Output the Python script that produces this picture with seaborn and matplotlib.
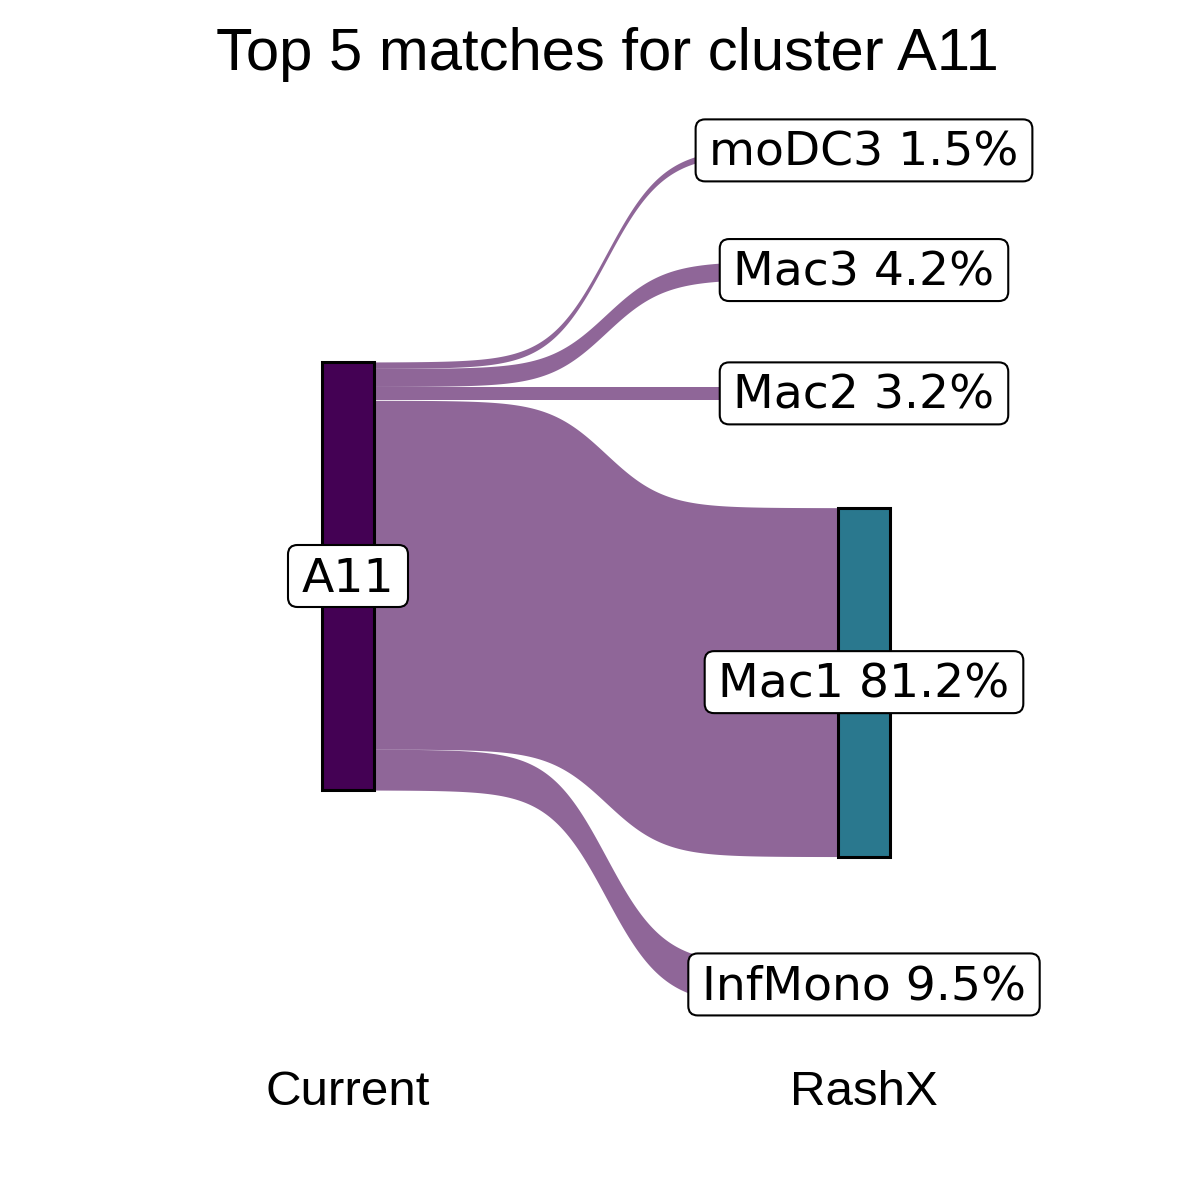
import matplotlib
matplotlib.use("Agg")
import matplotlib.pyplot as plt
import matplotlib.transforms as mtransforms
from matplotlib.patches import BoxStyle
import numpy as np
import seaborn as sns

# data
source = "A11"
targets = ["moDC3", "Mac3", "Mac2", "Mac1", "InfMono"]
pcts = [1.5, 4.2, 3.2, 81.2, 9.5]
columns = ["Current", "RashX"]
node_colors = {"A11": "#440154", "InfMono": "#414487", "Mac1": "#2A788E",
               "Mac2": "#22A884", "Mac3": "#7AD151", "moDC3": "#FDE725"}

sns.set_theme(style="white")
plt.rcParams['font.family'] = ['Liberation Sans', 'DejaVu Sans']
plt.rcParams['text.color'] = 'black'
plt.rcParams['xtick.color'] = 'black'
plt.rcParams['axes.titlecolor'] = 'black'

space = 25      # gap between nodes on the right (same units as pct)
node_w = 0.1
smooth = 8
shift = 3       # px, text sits a bit low in the label box


def sigmoid(x0, x1, y0, y1, n=300):
    s = np.linspace(-smooth, smooth, n)
    y = np.exp(s) / (np.exp(s) + 1)
    return (s + smooth) / (2 * smooth) * (x1 - x0) + x0, y * (y1 - y0) + y0


rnd = BoxStyle.Round(pad=0, rounding_size=0.2)


def label_box(x0, y0, width, height, mutation_size):
    # wider padding left/right than top/bottom, like ggplot labels
    px = 0.29 * mutation_size
    py = 0.18 * mutation_size
    return rnd(x0 - px, y0 - py + shift, width + 2 * px, height + 2 * py, mutation_size)


fig = plt.figure(figsize=(12, 12), dpi=100)
ax = fig.add_axes([0, 150 / 1200, 1, 950 / 1200])

total = sum(pcts)
left_top = total / 2
right_top = (total + space * (len(pcts) - 1)) / 2

ly = left_top
ry = right_top
right_nodes = []
for name, p in zip(targets, pcts):
    l_hi, l_lo = ly, ly - p
    r_hi, r_lo = ry, ry - p
    xs, top = sigmoid(1 + node_w / 2, 2 - node_w / 2, l_hi, r_hi)
    _, bot = sigmoid(1 + node_w / 2, 2 - node_w / 2, l_lo, r_lo)
    ax.fill_between(xs, bot, top, color=node_colors[source], alpha=0.6,
                    linewidth=0, zorder=1)
    right_nodes.append((name, p, r_lo))
    ly -= p
    ry -= p + space

# nodes
ax.bar(1, total, bottom=-total / 2, width=node_w, color=node_colors[source],
       edgecolor="black", linewidth=2.2, zorder=2)
for name, p, bottom in right_nodes:
    ax.bar(2, p, bottom=bottom, width=node_w, color=node_colors[name],
           edgecolor="black", linewidth=2.2, zorder=2)

# labels
trans = ax.transData + mtransforms.ScaledTranslation(0, -shift / 100, fig.dpi_scale_trans)
bbox = dict(boxstyle=label_box, facecolor="white", edgecolor="black", linewidth=1.5)
ax.text(1, 0, source, ha="center", va="center", fontsize=34,
        family="DejaVu Sans", bbox=bbox, zorder=5, transform=trans)
for name, p, bottom in right_nodes:
    ax.text(2, bottom + p / 2, f"{name} {p:.1f}%", ha="center", va="center",
            fontsize=34, family="DejaVu Sans", bbox=bbox, zorder=5, transform=trans)

ax.set_xlim(1 - 348 / 516, 1 + 852 / 516)
ax.set_ylim(-474 / 4.297, 476 / 4.297)
ax.set_xticks([1, 2])
ax.set_xticklabels(columns, fontsize=35.5)
ax.set_yticks([])
ax.tick_params(axis="x", length=0, pad=14.4)
for s in ax.spines.values():
    s.set_visible(False)
ax.set_title("Top 5 matches for cluster A11", fontsize=43, pad=21.6, x=0.506)

fig.savefig("out.png", dpi=100, facecolor="white")
